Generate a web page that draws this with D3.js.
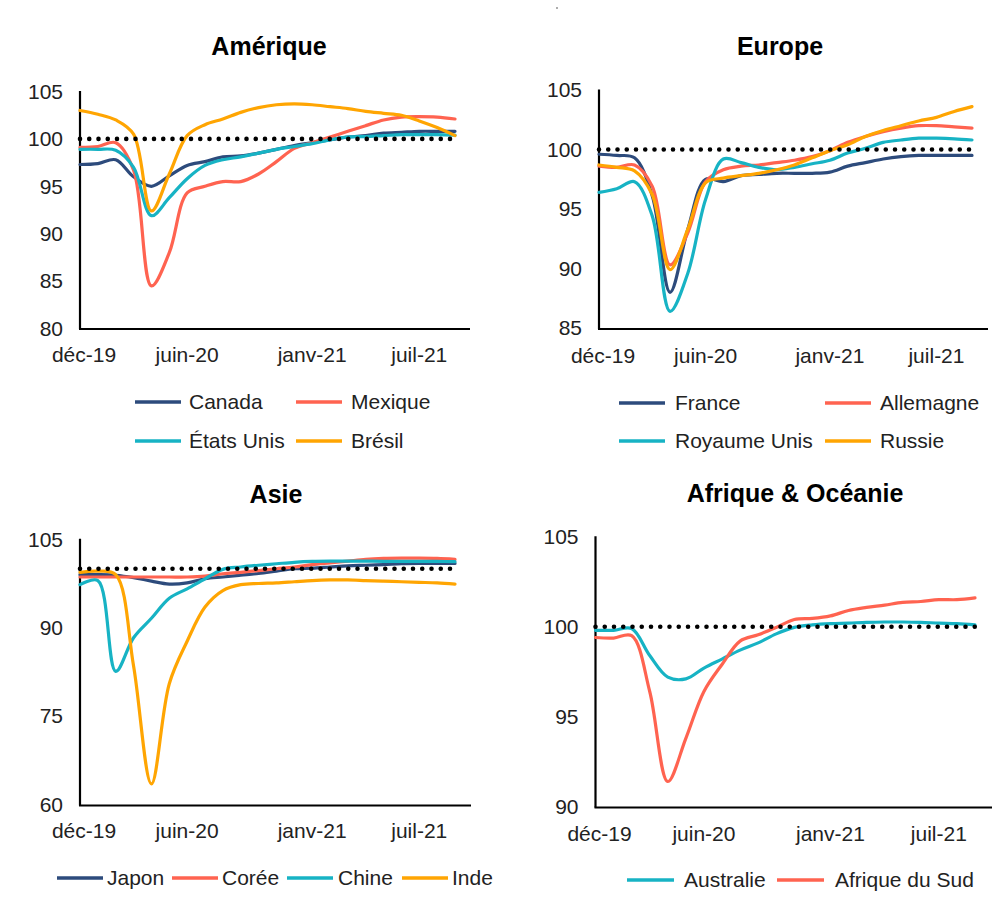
<!DOCTYPE html>
<html><head><meta charset="utf-8">
<script src="https://cdn.jsdelivr.net/npm/d3@7/dist/d3.min.js"></script>
<style>
html,body{margin:0;padding:0;background:#fff;}
svg{display:block;font-family:"Liberation Sans",Arial,Helvetica,sans-serif;}
</style></head>
<body>
<svg id="c" width="1001" height="903"></svg>
<script>
// ---- data ----
const months = ["déc-19","janv-20","févr-20","mars-20","avr-20","mai-20","juin-20","juil-20","août-20","sept-20","oct-20","nov-20",
                "déc-20","janv-21","févr-21","mars-21","avr-21","mai-21","juin-21","juil-21","août-21","sept-21"];
const tickLabels = ["déc-19","juin-20","janv-21","juil-21"];
const reference = 100;

// Amérique
const canada   = [97.3,97.4,97.8,96.0,95.0,96.1,97.2,97.6,98.1,98.2,98.5,98.9,99.3,99.6,99.9,100.2,100.35,100.6,100.7,100.8,100.8,100.8];
const mexique  = [99.1,99.2,99.6,96.7,84.5,88.0,94.3,95.0,95.5,95.5,96.3,97.6,99.0,99.6,100.2,100.8,101.4,102.0,102.3,102.35,102.3,102.1];
const etatsUnis= [98.9,98.9,98.8,97.0,91.9,93.8,95.8,97.2,97.8,98.1,98.5,98.9,99.2,99.5,99.9,100.2,100.25,100.35,100.45,100.45,100.45,100.4];
const bresil   = [103.0,102.6,102.0,100.5,92.4,96.3,100.35,101.5,102.1,102.8,103.3,103.6,103.7,103.6,103.4,103.2,102.9,102.7,102.5,101.9,101.2,100.35];
// Europe
const france   = [99.6,99.5,99.3,96.1,88.0,93.3,97.5,97.3,97.8,97.9,98.0,98.0,98.0,98.1,98.6,98.9,99.2,99.4,99.5,99.5,99.5,99.5];
const allemagne= [98.6,98.5,98.7,96.9,90.3,93.0,97.3,98.3,98.6,98.7,98.9,99.1,99.4,99.9,100.6,101.1,101.5,101.8,102.0,102.0,101.9,101.8];
const royaumeUni=[96.4,96.7,97.3,94.4,86.4,89.6,95.8,99.2,98.9,98.5,98.3,98.5,98.8,99.1,99.7,100.1,100.6,100.8,100.95,100.95,100.9,100.8];
const russie   = [98.7,98.5,98.2,96.2,89.9,93.3,97.2,97.6,97.8,98.0,98.3,98.7,99.3,99.9,100.4,101.1,101.6,102.0,102.4,102.7,103.2,103.6];
// Asie
const japon    = [99.0,99.0,98.9,98.5,97.9,97.4,97.6,98.3,98.6,98.9,99.2,99.6,100.0,100.1,100.3,100.5,100.6,100.7,100.85,100.9,100.9,100.9];
const coree    = [98.6,98.6,98.6,98.6,98.6,98.6,98.6,98.75,99.15,99.4,99.7,100.0,100.3,100.7,101.0,101.3,101.6,101.75,101.8,101.8,101.75,101.6];
const chine    = [97.3,98.0,82.6,88.3,91.6,95.0,96.6,98.3,99.9,100.3,100.6,100.85,101.1,101.25,101.3,101.3,101.3,101.25,101.25,101.25,101.25,101.2];
const inde     = [99.4,99.6,99.0,83.5,63.5,80.5,87.7,93.5,96.3,97.3,97.5,97.6,97.8,98.0,98.1,98.1,98.0,97.9,97.8,97.7,97.6,97.4];
// Afrique & Océanie
const australie= [99.8,99.8,99.9,98.4,97.2,97.1,97.7,98.2,98.7,99.1,99.6,99.96,100.1,100.17,100.2,100.24,100.26,100.26,100.24,100.2,100.17,100.1];
const afriqueSud=[99.4,99.37,99.5,96.4,91.4,93.8,96.4,97.9,99.2,99.55,99.96,100.4,100.46,100.6,100.9,101.07,101.2,101.35,101.4,101.5,101.5,101.6];

// ---- styles ----
const NAVY="#2D4B7C", CORAL="#FF6350", TEAL="#17B3C4", ORANGE="#FFA502";
const FS = 21;

const panels = [
  { title:"Amérique", tx:269, ty:55, x0:80, x1:455, axEnd:470, yTop:91.5, yBot:328.5, axY:329, dom:[80,105], ticks:[80,85,90,95,100,105], labY:362,
    series:[{n:"Canada",v:canada,c:NAVY},{n:"Mexique",v:mexique,c:CORAL},{n:"États Unis",v:etatsUnis,c:TEAL},{n:"Brésil",v:bresil,c:ORANGE}],
    legend:[[135,402,189],[296,402,351],[135,441,189],[296,441,351]], sw:46 },
  { title:"Europe", tx:780, ty:55, x0:599, x1:972, axEnd:988, yTop:90, yBot:328, axY:329, dom:[85,105], ticks:[85,90,95,100,105], labY:363,
    series:[{n:"France",v:france,c:NAVY},{n:"Allemagne",v:allemagne,c:CORAL},{n:"Royaume Unis",v:royaumeUni,c:TEAL},{n:"Russie",v:russie,c:ORANGE}],
    legend:[[619,403,675],[825,403,880],[619,441,675],[825,441,880]], sw:46 },
  { title:"Asie", tx:276, ty:503, x0:80, x1:455, axEnd:471, yTop:539.3, yBot:804.5, axY:805.5, dom:[60,105], ticks:[60,75,90,105], labY:838,
    series:[{n:"Japon",v:japon,c:NAVY},{n:"Corée",v:coree,c:CORAL},{n:"Chine",v:chine,c:TEAL},{n:"Inde",v:inde,c:ORANGE}],
    legend:[[57,878,107],[172,878,222],[287,878,338],[402,878,452]], sw:46 },
  { title:"Afrique & Océanie", tx:795, ty:502, x0:595.5, x1:975, axEnd:992, yTop:536.7, yBot:806.7, axY:807.5, dom:[90,105], ticks:[90,95,100,105], labY:841,
    series:[{n:"Australie",v:australie,c:TEAL},{n:"Afrique du Sud",v:afriqueSud,c:CORAL}],
    legend:[[627,880,684],[777,880,835]], sw:47 }
];

const svg = d3.select("#c");

panels.forEach(p => {
  const g = svg.append("g");
  const x = d3.scaleLinear().domain([0, months.length-1]).range([p.x0, p.x1]);
  const y = d3.scaleLinear().domain(p.dom).range([p.yBot, p.yTop]);

  // title
  g.append("text").attr("x", p.tx).attr("y", p.ty).attr("text-anchor","middle")
    .attr("font-size", 25).attr("font-weight","bold").attr("fill","#000").text(p.title);

  // y axis
  const ya = d3.axisLeft(y).tickValues(p.ticks).tickSize(0).tickPadding(17).tickSizeOuter(0);
  const yg = g.append("g").attr("transform", `translate(${p.x0},0)`).call(ya);
  yg.select(".domain").attr("stroke","#000").attr("stroke-width",2.2)
    .attr("d", `M0,${p.yTop-0.5}V${p.axY}`);
  yg.selectAll("text").attr("font-size",FS).attr("fill","#222").attr("font-family","Liberation Sans, Arial, sans-serif");

  // x axis baseline
  g.append("line").attr("x1", p.x0-1).attr("x2", p.axEnd).attr("y1", p.axY).attr("y2", p.axY)
    .attr("stroke","#000").attr("stroke-width",2.2);
  // x tick labels
  g.selectAll("text.xl").data(tickLabels).join("text").attr("class","xl")
    .attr("x", d => x(months.indexOf(d)) + (d===tickLabels[0] ? 4 : 0))
    .attr("y", p.labY).attr("text-anchor","middle").attr("font-size",FS).attr("fill","#222").text(d => d);

  // series lines
  const line = d3.line().x((d,i)=>x(i)).y(d=>y(d)).curve(d3.curveCatmullRom.alpha(0.5));
  p.series.forEach(s => {
    g.append("path").datum(s.v).attr("d", line).attr("fill","none")
      .attr("stroke", s.c).attr("stroke-width",3.2).attr("stroke-linejoin","round").attr("stroke-linecap","round");
  });

  // reference dotted line (100)
  const ref = months.map(() => reference);
  g.append("path").datum(ref).attr("d", d3.line().x((d,i)=>x(i)).y(d=>y(d)))
    .attr("fill","none").attr("stroke","#000").attr("stroke-width",4.6)
    .attr("stroke-linecap","round").attr("stroke-dasharray","0,9.25");

  // legend
  p.series.forEach((s,i) => {
    const [lx, ly, tx] = p.legend[i];
    g.append("line").attr("x1", lx).attr("x2", lx+p.sw).attr("y1", ly).attr("y2", ly)
      .attr("stroke", s.c).attr("stroke-width",3.5);
    g.append("text").attr("x", tx).attr("y", ly).attr("dy","0.35em")
      .attr("font-size",FS).attr("fill","#222").text(s.n);
  });
});

// small mark at top
svg.append("circle").attr("cx",557).attr("cy",8).attr("r",0.8).attr("fill","#444");
</script>
</body></html>
